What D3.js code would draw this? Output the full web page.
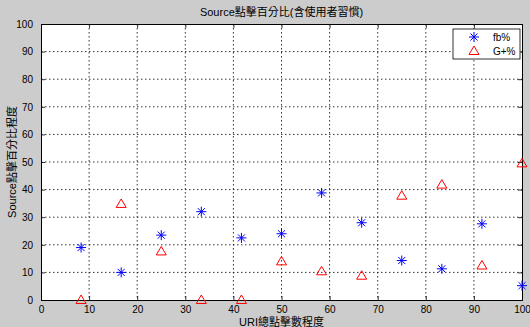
<!DOCTYPE html>
<html><head><meta charset="utf-8">
<script src="https://cdn.jsdelivr.net/npm/d3@7"></script>
<style>body{margin:0;background:#cccccc;} svg{display:block;}</style>
</head><body>
<svg id="c" width="530" height="327"></svg>
<script>
const xVals = [8.33, 16.67, 25, 33.33, 41.67, 50, 58.33, 66.67, 75, 83.33, 91.67, 100];
const fbVals = [19, 10, 23.5, 32, 22.5, 24, 38.8, 28, 14.3, 11.3, 27.6, 5.2];
const gVals = [0, 34.8, 17.6, 0, 0, 14, 10.4, 8.8, 37.8, 41.8, 12.5, 49.5];
const xTicks = [0,10,20,30,40,50,60,70,80,90,100];
const yTicks = [0,10,20,30,40,50,60,70,80,90,100];
const title = "Source點擊百分比(含使用者習慣)";
const xLabel = "URI總點擊數程度";
const yLabel = "Source點擊百分比程度";
const seriesNames = ["fb%", "G+%"];

const font = "'Liberation Sans','Noto Sans CJK TC',sans-serif";
const svg = d3.select("#c");
svg.append("rect").attr("width",530).attr("height",327).attr("fill","#cccccc");
const L=41, R=522, T=24, B=300;
const x = d3.scaleLinear().domain([0,100]).range([L,R]);
const y = d3.scaleLinear().domain([0,100]).range([B,T]);

svg.append("rect").attr("x",L).attr("y",T).attr("width",R-L).attr("height",B-T).attr("fill","#fff");

// grid
const g = svg.append("g");
xTicks.slice(1,-1).forEach(t=>{
  g.append("line").attr("x1",x(t)).attr("x2",x(t)).attr("y1",T).attr("y2",B)
   .attr("stroke","#000").attr("stroke-width",0.8).attr("stroke-dasharray","1.5,2.5");
});
yTicks.slice(1,-1).forEach(t=>{
  g.append("line").attr("y1",y(t)).attr("y2",y(t)).attr("x1",L).attr("x2",R)
   .attr("stroke","#000").attr("stroke-width",0.8).attr("stroke-dasharray","1.5,2.5");
});

// axes with inner ticks
const ax = d3.axisBottom(x).tickValues(xTicks).tickSize(-4).tickPadding(6).tickFormat(d3.format("d"));
const ay = d3.axisLeft(y).tickValues(yTicks).tickSize(-4).tickPadding(8).tickFormat(d3.format("d"));
const axT = d3.axisTop(x).tickValues(xTicks).tickSize(-4).tickFormat("");
const ayR = d3.axisRight(y).tickValues(yTicks).tickSize(-4).tickFormat("");
function style(sel){
  sel.selectAll("path").attr("stroke","#000").attr("stroke-width",1);
  sel.selectAll("line").attr("stroke","#000").attr("stroke-width",0.8);
  sel.selectAll("text").attr("font-family",font).attr("font-size",10).attr("fill","#000");
}
style(svg.append("g").attr("transform",`translate(0,${B})`).call(ax));
style(svg.append("g").attr("transform",`translate(${L},0)`).call(ay));
style(svg.append("g").attr("transform",`translate(0,${T})`).call(axT));
style(svg.append("g").attr("transform",`translate(${R},0)`).call(ayR));

// markers
function star(sel, cx, cy, r){
  const a = r*0.7071;
  const p = `M${cx-r},${cy}L${cx+r},${cy}M${cx},${cy-r}L${cx},${cy+r}M${cx-a},${cy-a}L${cx+a},${cy+a}M${cx-a},${cy+a}L${cx+a},${cy-a}`;
  sel.append("path").attr("d",p).attr("stroke","#0000ff").attr("stroke-width",1).attr("fill","none");
}
function tri(sel, cx, cy, r){
  const p = `M${cx},${cy-r}L${cx+r},${cy+r*0.7}L${cx-r},${cy+r*0.7}Z`;
  sel.append("path").attr("d",p).attr("stroke","#ff0000").attr("stroke-width",1).attr("fill","none");
}
const mk = svg.append("g");
xVals.forEach((xv,i)=>star(mk, x(xv), y(fbVals[i]), 5));
xVals.forEach((xv,i)=>tri(mk, x(xv), y(gVals[i]), 5));

// title & labels
svg.append("text").attr("x",(L+R)/2).attr("y",16).attr("text-anchor","middle")
  .attr("font-family",font).attr("font-size",11).text(title);
svg.append("text").attr("x",(L+R)/2).attr("y",326).attr("text-anchor","middle")
  .attr("font-family",font).attr("font-size",11).text(xLabel);
svg.append("text").attr("transform",`translate(16,${(T+B)/2}) rotate(-90)`).attr("text-anchor","middle")
  .attr("font-family",font).attr("font-size",11).text(yLabel);

// legend
const lg = svg.append("g");
lg.append("rect").attr("x",453).attr("y",29).attr("width",67).attr("height",30)
  .attr("fill","#fff").attr("stroke","#000").attr("stroke-width",0.8);
star(lg, 474, 37, 5);
tri(lg, 474, 51, 5);
lg.append("text").attr("x",493).attr("y",40.5).attr("font-family",font).attr("font-size",10).text(seriesNames[0]);
lg.append("text").attr("x",493).attr("y",54.5).attr("font-family",font).attr("font-size",10).text(seriesNames[1]);
</script>
</body></html>
